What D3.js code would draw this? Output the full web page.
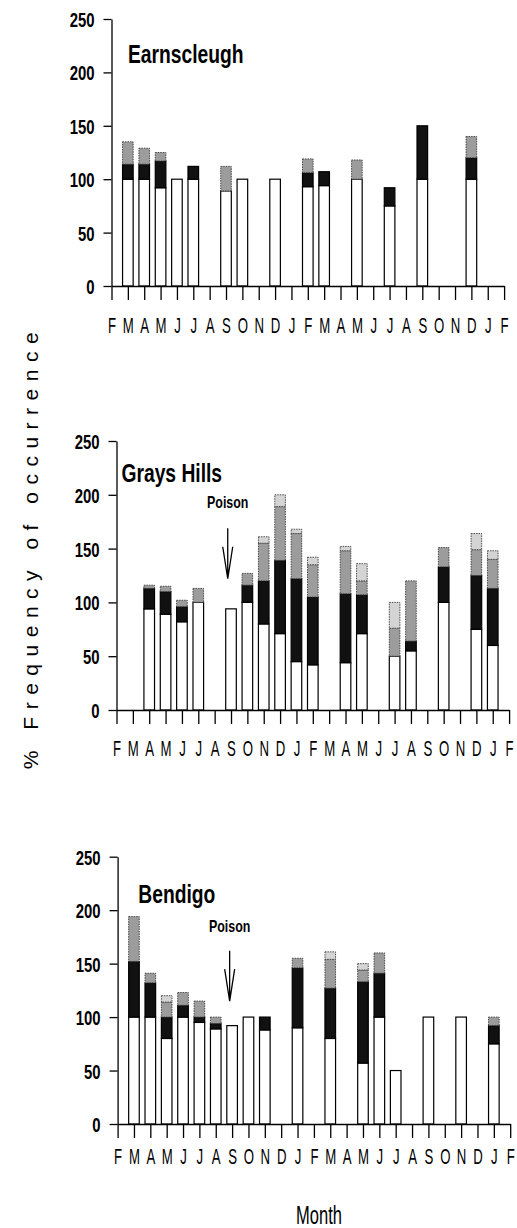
<!DOCTYPE html>
<html>
<head>
<meta charset="utf-8">
<script src="https://cdn.jsdelivr.net/npm/d3@7"></script>
<style>
  body { margin: 0; background: #fff; }
  svg { display: block; }
</style>
</head>
<body>
<div class="svg-container"></div>
<script>
const monthLabels = ["F","M","A","M","J","J","A","S","O","N","D","J","F","M","A","M","J","J","A","S","O","N","D","J","F"];
const yTicks = [0, 50, 100, 150, 200, 250];
const keys = ["white", "black", "gray", "light"];

// Earnscleugh
const earnMonths = [1, 2, 3, 4, 5, 7, 8, 10, 12, 13, 15, 17, 19, 22];
const earnWhite  = [100, 100, 92, 100, 100, 89, 100, 100, 93, 94, 100, 75, 100, 100];
const earnBlack  = [14, 14, 25, 0, 12, 0, 0, 0, 13, 13, 0, 17, 50, 20];
const earnGray   = [21, 15, 8, 0, 0, 23, 0, 0, 13, 0, 18, 0, 0, 20];
const earnLight  = [0, 0, 0, 0, 0, 0, 0, 0, 0, 0, 0, 0, 0, 0];

// Grays Hills
const grayMonths = [2, 3, 4, 5, 7, 8, 9, 10, 11, 12, 14, 15, 17, 18, 20, 22, 23];
const grayWhite  = [94, 89, 82, 100, 94, 100, 80, 71, 45, 42, 44, 71, 50, 55, 100, 75, 60];
const grayBlack  = [19, 21, 14, 0, 0, 16, 40, 68, 77, 63, 64, 36, 0, 9, 33, 50, 53];
const grayGray   = [3, 5, 6, 13, 0, 11, 35, 50, 42, 30, 40, 13, 26, 56, 18, 24, 27];
const grayLight  = [0, 0, 0, 0, 0, 0, 6, 11, 4, 7, 4, 16, 24, 0, 0, 15, 8];
const grayPoison = { month: 6.8, label: 188, from: 169, to: 122 };

// Bendigo
const bendMonths = [1, 2, 3, 4, 5, 6, 7, 8, 9, 11, 13, 15, 16, 17, 19, 21, 23];
const bendWhite  = [100, 100, 80, 100, 95, 89, 92, 100, 88, 90, 80, 57, 100, 50, 100, 100, 75];
const bendBlack  = [52, 32, 20, 11, 5, 5, 0, 0, 12, 56, 47, 76, 41, 0, 0, 0, 17];
const bendGray   = [42, 9, 14, 12, 15, 6, 0, 0, 0, 9, 27, 11, 19, 0, 0, 0, 8];
const bendLight  = [0, 0, 6, 0, 0, 0, 0, 0, 0, 0, 7, 6, 0, 0, 0, 0, 0];
const bendPoison = { month: 6.85, label: 180, from: 162, to: 115 };

const panels = [
    { name: "Earnscleugh", months: earnMonths, white: earnWhite, black: earnBlack, gray: earnGray, light: earnLight,
      x0: 111.5, bottom: 286, top: 19, labelGap: 47, titleX: 128, titleVal: 208.5, poison: null },
    { name: "Grays Hills", months: grayMonths, white: grayWhite, black: grayBlack, gray: grayGray, light: grayLight,
      x0: 116.5, bottom: 710, top: 441, labelGap: 46, titleX: 121.5, titleVal: 211.5, poison: grayPoison },
    { name: "Bendigo", months: bendMonths, white: bendWhite, black: bendBlack, gray: bendGray, light: bendLight,
      x0: 117.6, bottom: 1124, top: 856.7, labelGap: 40, titleX: 138.3, titleVal: 206.7, poison: bendPoison }
];

const fills = { white: "#ffffff", black: "#111111", gray: "#9c9c9c", light: "#d4d4d4" };
const font = "'Liberation Sans', Arial, sans-serif";
const plotWidth = 392.6;
const barWidth = 10.6;

const svg = d3.select("div.svg-container").append("svg")
    .attr("width", 517)
    .attr("height", 1228);

panels.forEach(p => {
    const x = d3.scaleLinear().domain([0, 24]).range([p.x0, p.x0 + plotWidth]);
    const y = d3.scaleLinear().domain([0, 250]).range([p.bottom, p.top]);
    const g = svg.append("g");

    const rows = p.months.map((m, i) => ({
        month: m, white: p.white[i], black: p.black[i], gray: p.gray[i], light: p.light[i]
    }));
    const series = d3.stack().keys(keys)(rows);

    series.forEach(s => {
        const soft = s.key === "gray" || s.key === "light";
        g.append("g").selectAll("rect")
            .data(s.filter(d => d[1] > d[0]))
            .join("rect")
            .attr("x", d => x(d.data.month) - barWidth / 2)
            .attr("width", barWidth)
            .attr("y", d => y(d[1]))
            .attr("height", d => y(d[0]) - y(d[1]))
            .attr("fill", fills[s.key])
            .attr("stroke", soft ? "#3a3a3a" : "#000")
            .attr("stroke-width", soft ? 0.9 : 1.2)
            .attr("stroke-dasharray", soft ? "1.5,1" : null);
    });

    // y axis
    const yAxisG = g.append("g")
        .attr("transform", `translate(${p.x0},0)`)
        .call(d3.axisLeft(y).tickValues(yTicks).tickSize(8).tickSizeOuter(0));
    yAxisG.selectAll("text")
        .attr("x", 0)
        .attr("dy", "0.36em")
        .attr("transform", "translate(-17,0) scale(0.71,1)")
        .attr("text-anchor", "end")
        .style("font-family", font)
        .style("font-size", "21px")
        .style("font-weight", "bold")
        .attr("fill", "#000");

    // x axis
    const xAxisG = g.append("g")
        .attr("transform", `translate(0,${p.bottom})`)
        .call(d3.axisBottom(x).tickValues(d3.range(25)).tickSize(14).tickSizeOuter(0)
            .tickFormat(i => monthLabels[i]));
    xAxisG.selectAll("text")
        .attr("y", 0)
        .attr("dy", null)
        .attr("transform", `translate(0,${p.labelGap}) scale(0.6,1)`)
        .style("font-family", font)
        .style("font-size", "22px")
        .attr("fill", "#000");

    [yAxisG, xAxisG].forEach(a => {
        a.selectAll("path, line").attr("stroke", "#000").attr("stroke-width", 1.3);
    });

    // panel title
    g.append("text")
        .attr("transform", `translate(${p.titleX},${y(p.titleVal)}) scale(0.77,1)`)
        .style("font-family", font)
        .style("font-size", "25px")
        .style("font-weight", "bold")
        .text(p.name);

    // poison annotation
    if (p.poison) {
        const px = x(p.poison.month);
        g.append("text")
            .attr("transform", `translate(${px},${y(p.poison.label)}) scale(0.73,1)`)
            .attr("text-anchor", "middle")
            .style("font-family", font)
            .style("font-size", "17px")
            .style("font-weight", "bold")
            .text("Poison");
        const y1 = y(p.poison.from), y2 = y(p.poison.to);
        const arrow = d3.path();
        arrow.moveTo(px, y1); arrow.lineTo(px, y2);
        arrow.moveTo(px - 5, y2 - 32); arrow.lineTo(px, y2); arrow.lineTo(px + 5, y2 - 32);
        g.append("path")
            .attr("d", arrow.toString())
            .attr("fill", "none")
            .attr("stroke", "#000")
            .attr("stroke-width", 1.3);
    }
});

// axis titles
svg.append("text")
    .attr("transform", "translate(38,547) rotate(-90)")
    .attr("text-anchor", "middle")
    .style("font-family", font)
    .style("font-size", "21px")
    .style("letter-spacing", "7.5px")
    .text("% Frequency of occurrence");

svg.append("text")
    .attr("transform", "translate(319,1224) scale(0.66,1)")
    .attr("text-anchor", "middle")
    .style("font-family", font)
    .style("font-size", "25px")
    .text("Month");
</script>
</body>
</html>
